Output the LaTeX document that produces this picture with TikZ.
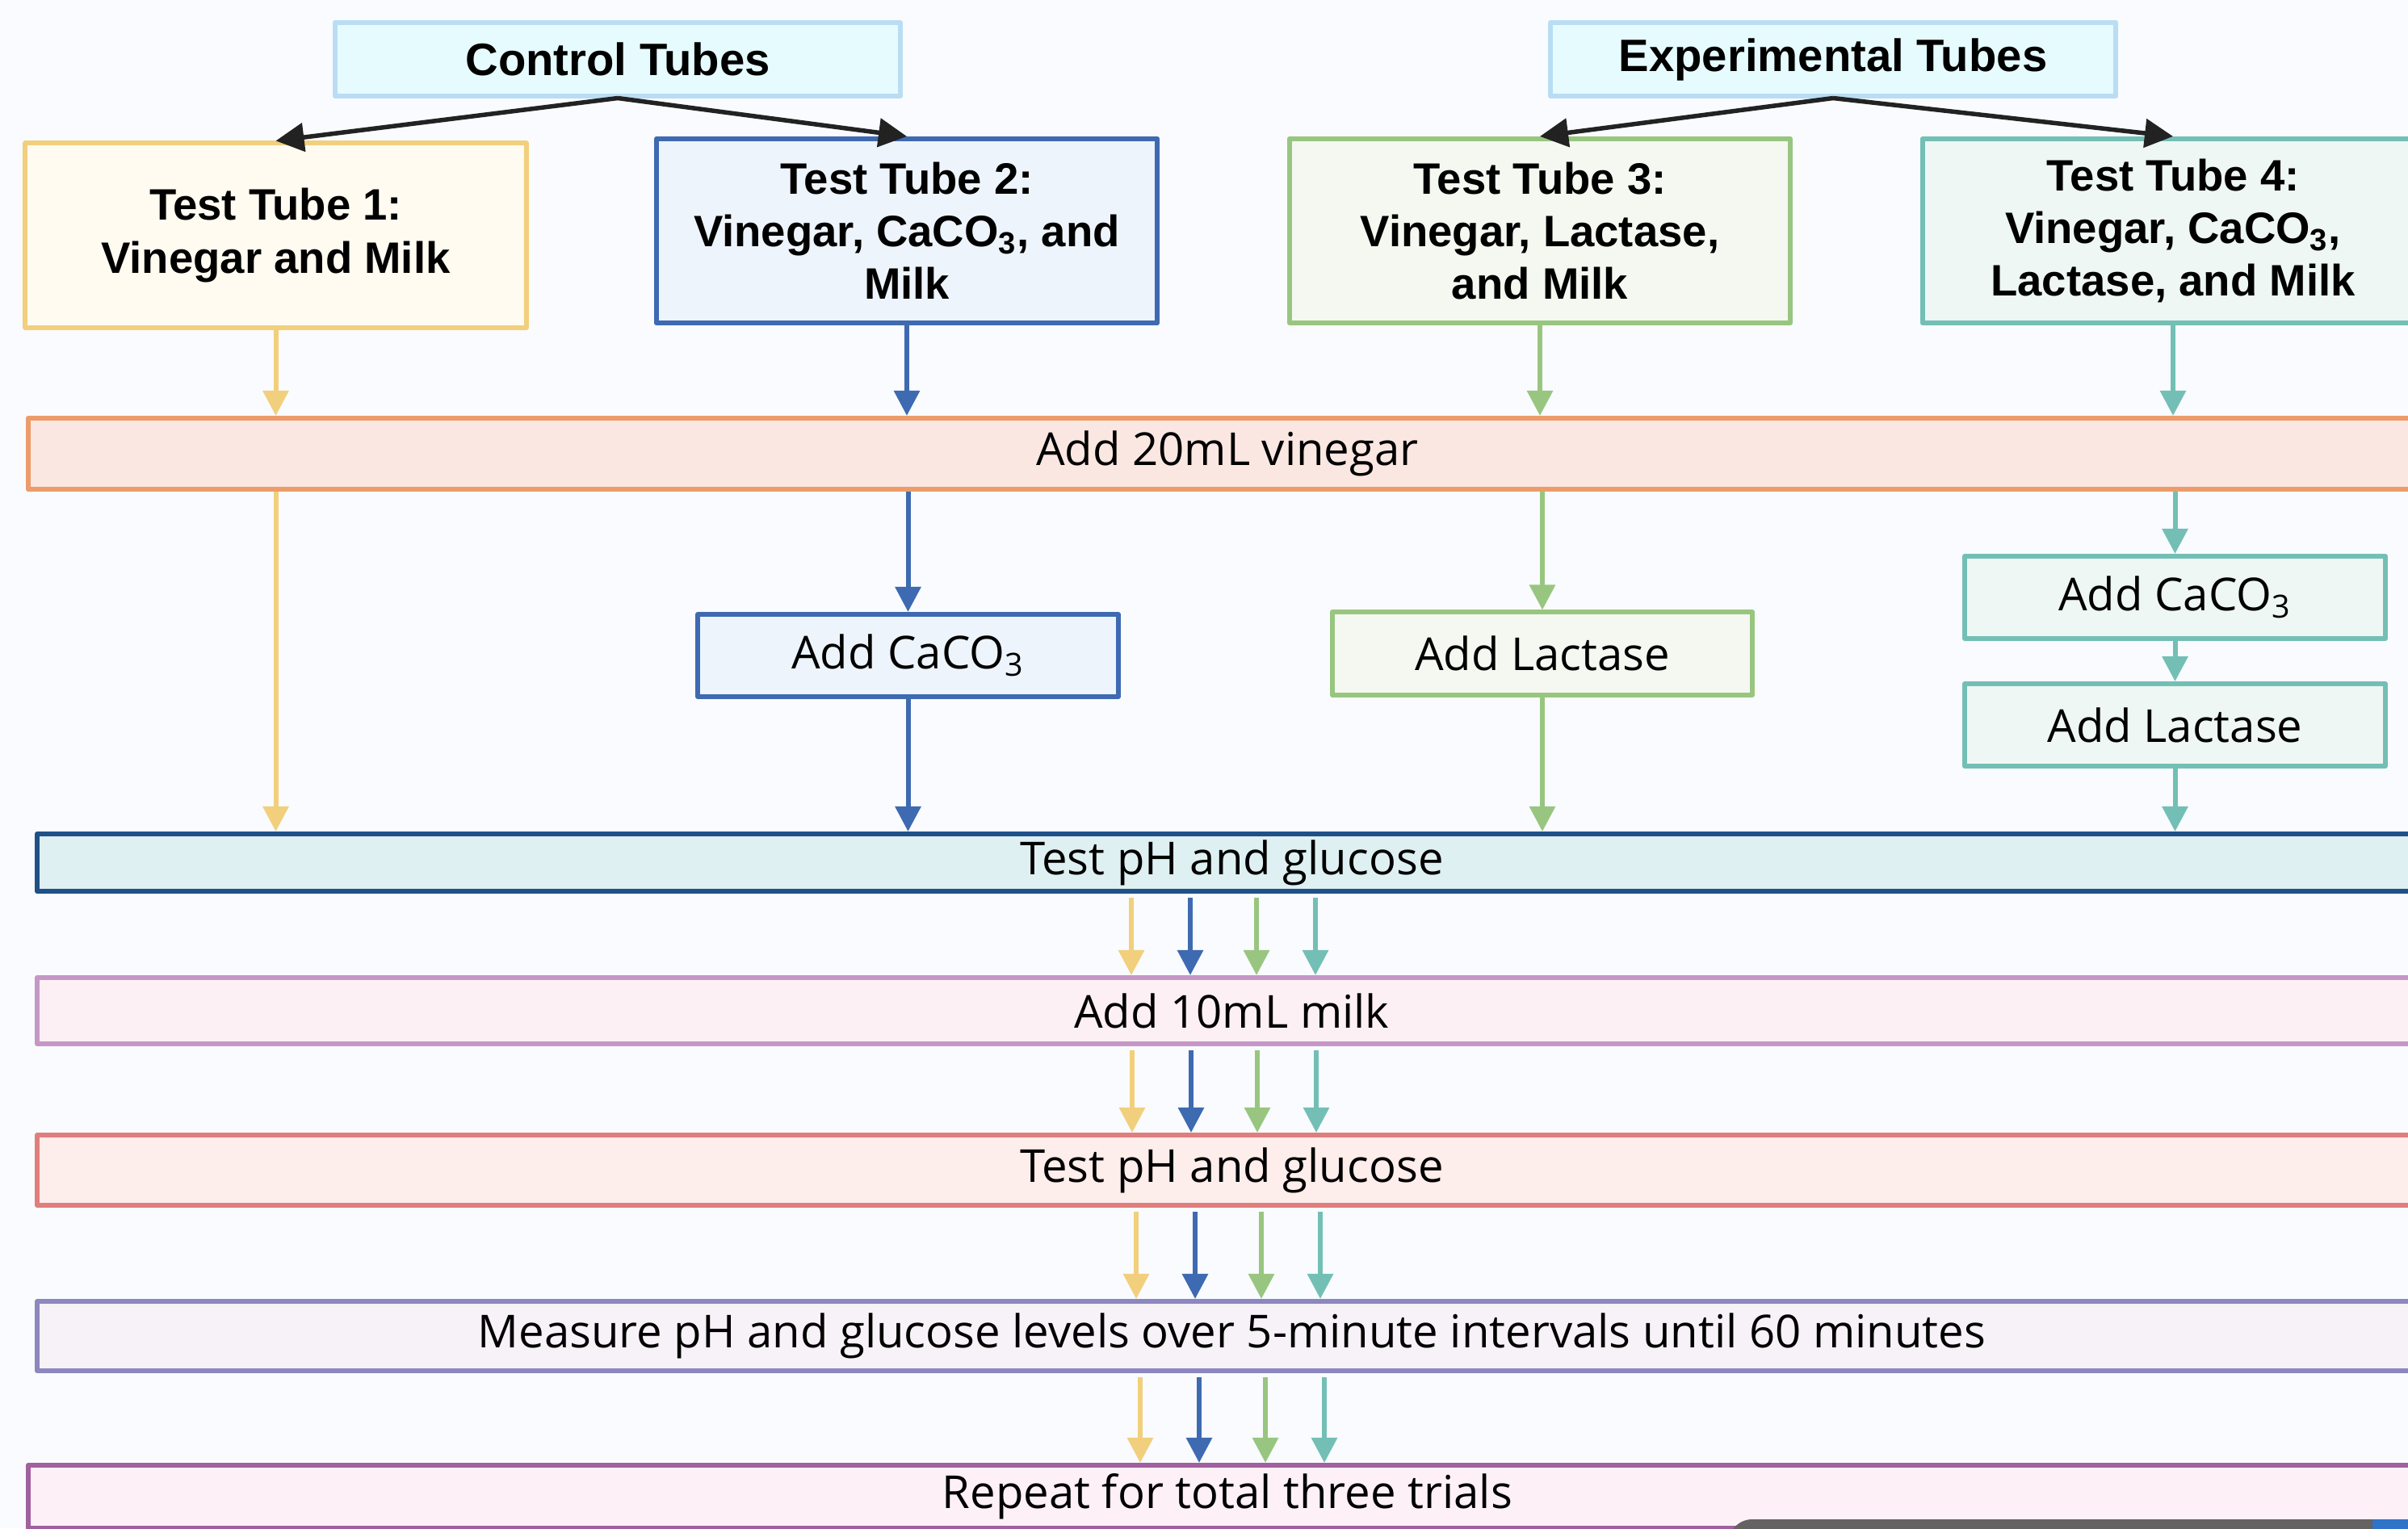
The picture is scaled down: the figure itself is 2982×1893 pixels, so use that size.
\documentclass[tikz,border=0pt]{standalone}
\usepackage{fontspec}
\setmainfont{Open Sans}
\newfontfamily\headfont{Liberation Sans}
\usetikzlibrary{%
  arrows.meta,%
  positioning% wg. " of "
}
\definecolor{backdrop}{HTML}{F9FBFE}
\definecolor{headline}{HTML}{B9DDF3}
\definecolor{headfill}{HTML}{E6FBFE}
\definecolor{yellowline}{HTML}{F1CF7C}
\definecolor{yellowfill}{HTML}{FFFBF1}
\definecolor{blueline}{HTML}{3E6AB1}
\definecolor{bluefill}{HTML}{EEF4FB}
\definecolor{greenline}{HTML}{98C680}
\definecolor{greenfill}{HTML}{F5F8F0}
\definecolor{tealline}{HTML}{73BFB6}
\definecolor{tealfill}{HTML}{EEF7F3}
\definecolor{orangeline}{HTML}{EC9C6B}
\definecolor{orangefill}{HTML}{FAE7E2}
\definecolor{testline}{HTML}{1F5189}
\definecolor{testfill}{HTML}{DEF0F2}
\definecolor{milkline}{HTML}{C597C6}
\definecolor{milkfill}{HTML}{FDF0F5}
\definecolor{redline}{HTML}{E07E7D}
\definecolor{redfill}{HTML}{FDEDEB}
\definecolor{measureline}{HTML}{8C87BF}
\definecolor{measurefill}{HTML}{F7F2F7}
\definecolor{repeatline}{HTML}{A1609E}
\definecolor{repeatfill}{HTML}{FDF0F6}
\definecolor{arrowblack}{HTML}{222222}
\definecolor{bargray}{HTML}{646262}
\definecolor{barblue}{HTML}{2F74C8}

\begin{document}
\begin{tikzpicture}[
    x=0.01cm,y=-0.01cm,
    >={Triangle[length=3.1mm,width=3.1mm]},
    line join=round,
    box/.style={rectangle,draw,line width=0.6mm,inner sep=0pt,align=center,
        font=\fontsize{16}{19}\selectfont},
    head/.style={box,draw=headline,fill=headfill,
        minimum width=7cm,minimum height=0.9cm,
        font=\headfont\bfseries\fontsize{16}{18.5}\selectfont},
    tube/.style={box,minimum width=6.2cm,minimum height=2.28cm,
        font=\headfont\bfseries\fontsize{15.5}{18.5}\selectfont},
    stepbox/.style={box,minimum width=5.2cm,minimum height=1.02cm},
    wide/.style={box,anchor=west},
    flow/.style={->,line width=0.6mm,draw=#1,fill=#1},
    split/.style={->,line width=0.55mm,draw=arrowblack,fill=arrowblack,
        >={Triangle[length=3.5mm,width=3.5mm]}}
  ]

    \useasboundingbox (0,0) rectangle (2982,1893);
    \fill[backdrop] (0,0) rectangle (2982,1893);
    \clip (0,0) rectangle (2982,1893);

    % groups and tubes
    \node (control)      [head] at (765,73.5)  {Control Tubes};
    \node (experimental) [head] at (2270,73.5) {Experimental Tubes};

    \node (tube1) [tube,draw=yellowline,fill=yellowfill] at (341.5,291.5)
        {Test Tube 1:\\Vinegar and Milk};
    \node (tube2) [tube,draw=blueline,fill=bluefill] at (1123,286)
        {Test Tube 2:\\Vinegar, CaCO\textsubscript{3}, and\\Milk};
    \node (tube3) [tube,draw=greenline,fill=greenfill] at (1907,286)
        {Test Tube 3:\\Vinegar, Lactase,\\and Milk};
    \node (tube4) [tube,draw=tealline,fill=tealfill] at (2691,286)
        {Test Tube 4:\\Vinegar, CaCO\textsubscript{3},\\Lactase, and Milk};

    % steps
    \node (vinegar) [wide,draw=orangeline,fill=orangefill,
        minimum width=29.68cm,minimum height=0.88cm] at (32,562) {Add 20mL vinegar};

    \node (caco2)    [stepbox,draw=blueline,fill=bluefill]   at (1124.5,812) {Add CaCO\textsubscript{3}};
    \node (lactase3) [stepbox,draw=greenline,fill=greenfill] at (1910,809.5) {Add Lactase};
    \node (caco4)    [stepbox,draw=tealline,fill=tealfill]   at (2693.5,740) {Add CaCO\textsubscript{3}};
    \node (lactase4) [stepbox,draw=tealline,fill=tealfill,below=0.5cm of caco4] {Add Lactase};

    \node (test1) [wide,draw=testline,fill=testfill,
        minimum width=29.57cm,minimum height=0.71cm] at (43,1068.5) {Test pH and glucose};
    \node (milk) [wide,draw=milkline,fill=milkfill,
        minimum width=29.57cm,minimum height=0.82cm] at (43,1252) {Add 10mL milk};
    \node (test2) [wide,draw=redline,fill=redfill,
        minimum width=29.57cm,minimum height=0.87cm] at (43,1449.5) {Test pH and glucose};
    \node (measure) [wide,draw=measureline,fill=measurefill,
        minimum width=29.57cm,minimum height=0.86cm] at (43,1655)
        {Measure pH and glucose levels over 5-minute intervals until 60 minutes};
    \node (repeat) [wide,draw=repeatline,fill=repeatfill,
        minimum width=29.68cm,minimum height=0.78cm] at (32,1854) {Repeat for total three trials};

    % group arrows
    \draw[split] (control.south) -- (tube1.north);
    \draw[split] (control.south) -- (tube2.north);
    \draw[split] (experimental.south) -- (tube3.north);
    \draw[split] (experimental.south) -- (tube4.north);

    % tube columns
    \draw[flow=yellowline] (tube1.south) -- (tube1.south |- vinegar.north);
    \draw[flow=blueline]   (tube2.south) -- (tube2.south |- vinegar.north);
    \draw[flow=greenline]  (tube3.south) -- (tube3.south |- vinegar.north);
    \draw[flow=tealline]   (tube4.south) -- (tube4.south |- vinegar.north);

    \draw[flow=yellowline] (tube1.south |- vinegar.south) -- (tube1.south |- test1.north);
    \draw[flow=blueline]   (caco2 |- vinegar.south) -- (caco2.north);
    \draw[flow=greenline]  (lactase3 |- vinegar.south) -- (lactase3.north);
    \draw[flow=tealline]   (caco4 |- vinegar.south) -- (caco4.north);

    \draw[flow=blueline]  (caco2.south) -- (caco2.south |- test1.north);
    \draw[flow=greenline] (lactase3.south) -- (lactase3.south |- test1.north);
    \draw[flow=tealline]  (caco4.south) -- (lactase4.north);
    \draw[flow=tealline]  (lactase4.south) -- (lactase4.south |- test1.north);

    % four columns down the common steps
    \coordinate (col1) at (1401,0);
    \coordinate (col2) at (1474,0);
    \coordinate (col3) at (1556,0);
    \coordinate (col4) at (1629,0);
    \foreach \src/\dst/\dx in {test1/milk/0,milk/test2/1,test2/measure/6,measure/repeat/11}
      \foreach \col/\clr in {col1/yellowline,col2/blueline,col3/greenline,col4/tealline}
        \draw[flow=\clr] ([xshift=\dx*0.01cm,yshift=-0.05cm]\src.south -| \col)
            -- ([xshift=\dx*0.01cm]\dst.north -| \col);

    % screen overlay at the lower edge
    \fill[bargray,rounded corners=3mm] (2140,1882) rectangle (3000,1960);
    \fill[barblue] (2938,1882) rectangle (3000,1960);
\end{tikzpicture}
\end{document}
